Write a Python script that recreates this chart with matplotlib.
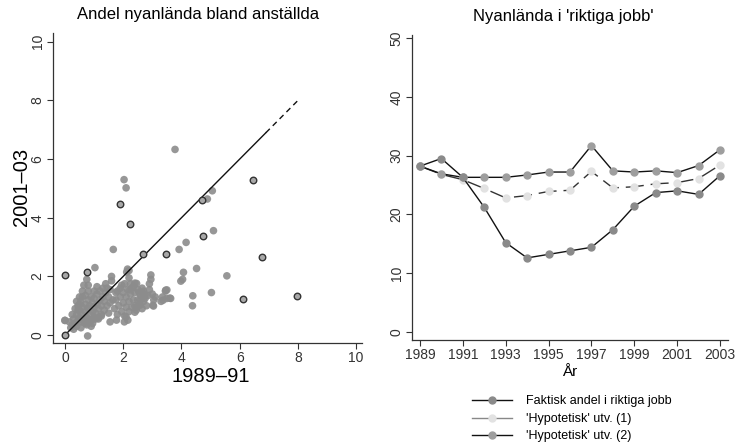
import matplotlib
matplotlib.use("Agg")
import matplotlib.pyplot as plt

plt.rcParams['font.family'] = ['Liberation Sans', 'DejaVu Sans']

# ---------------- data ----------------
# Left panel: share of newly arrived among employees, 1989-91 vs 2001-03
gray_x = [0.0, 0.78, 1.03, 1.66, 2.03, 2.10, 3.78, 3.92, 4.16, 4.89, 5.06, 5.10,
          4.07, 4.52, 3.98, 4.04, 4.39, 4.38, 5.03, 5.56, 3.63, 3.46, 3.04, 3.50, 3.60, 3.37,
          0.2, 0.25, 0.3, 0.35, 0.3, 0.4, 0.45, 0.4, 0.5, 0.5, 0.45, 0.55, 0.6, 0.6, 0.55, 0.6,
          0.65, 0.7, 0.7, 0.7, 0.75, 0.8, 0.8, 0.8, 0.8, 0.85, 0.85, 0.9, 0.9, 0.95, 0.95, 1.0,
          1.0, 1.0, 1.0, 1.05, 1.1, 1.1, 1.1, 1.15, 1.15, 1.2, 1.2, 1.25, 1.25, 1.3, 1.3, 1.35,
          1.35, 1.4, 1.4, 1.45, 1.5, 1.5, 1.55, 1.6, 1.6, 1.55, 0.6, 0.5, 0.65, 0.75, 0.35, 0.25,
          0.15, 0.4, 0.7, 0.9, 0.55, 0.65, 0.75, 0.85, 0.95, 1.05, 1.15, 1.25, 0.45, 0.5, 1.45,
          1.7, 1.75, 1.8, 1.8, 1.85, 1.9, 1.9, 1.95, 2.0, 2.0, 2.05, 2.05, 2.1, 2.1, 2.15, 2.2,
          2.2, 2.25, 2.3, 2.3, 2.35, 2.4, 2.4, 2.45, 2.5, 2.5, 2.55, 2.6, 2.65, 2.7, 2.7, 2.75,
          2.8, 2.85, 2.9, 2.9, 2.95, 2.95, 3.0, 3.05, 3.3, 3.35, 3.45, 3.5, 2.2, 2.15, 2.2, 2.12,
          2.46, 2.69, 2.4, 2.23, 2.47, 2.6, 2.75, 2.16, 2.4, 1.55, 1.77, 2.1, 2.04, 2.58, 3.02,
          3.1, 0.0, 1.95, 2.25, 1.65, 1.75, 2.35, 2.55, 2.65]
gray_y = [0.5, -0.03, 2.3, 2.92, 5.3, 5.02, 6.33, 2.92, 3.16, 4.64, 4.92, 3.56,
          2.14, 2.27, 1.84, 1.9, 1.34, 1.0, 1.45, 2.02, 1.25, 1.53, 0.99, 1.54, 1.26, 1.19,
          0.25, 0.35, 0.2, 0.4, 0.55, 0.3, 0.5, 0.7, 0.6, 0.85, 1.0, 0.45, 0.7, 0.95, 1.15, 1.3,
          0.55, 0.8, 1.05, 1.35, 0.6, 0.9, 1.2, 1.5, 1.7, 0.7, 1.0, 1.3, 0.5, 0.8, 1.1, 0.6,
          0.95, 1.25, 1.5, 0.75, 1.05, 1.4, 1.65, 0.55, 0.9, 1.2, 1.5, 0.7, 1.0, 1.3, 1.6, 0.85,
          1.15, 1.45, 1.75, 1.0, 1.3, 0.75, 1.55, 1.85, 2.0, 1.1, 1.5, 1.3, 1.7, 1.9, 0.9, 0.7,
          0.45, 1.15, 0.4, 0.3, 0.25, 0.45, 0.35, 0.5, 0.4, 0.55, 0.6, 0.65, 0.85, 1.05, 1.6,
          0.9, 1.2, 1.5, 0.7, 1.0, 1.3, 1.6, 0.8, 1.1, 1.45, 0.65, 1.75, 0.95, 1.3, 1.55, 0.8,
          1.15, 1.4, 0.95, 1.6, 1.2, 1.0, 1.45, 0.85, 1.2, 1.55, 1.05, 1.35, 0.9, 1.15, 1.5, 1.25,
          1.0, 1.35, 1.55, 1.75, 1.9, 2.05, 1.4, 1.2, 1.15, 1.3, 1.5, 1.25, 2.2, 2.25, 1.95, 2.15,
          1.76, 1.42, 1.77, 1.54, 0.96, 1.2, 1.37, 0.51, 0.78, 0.45, 0.51, 0.62, 0.45, 1.02, 1.02,
          1.3, 0.5, 1.7, 1.75, 1.2, 1.45, 1.65, 1.45, 1.6]
dark_x = [0.0, 0.0, 0.77, 1.89, 2.23, 2.67, 3.47, 4.70, 4.73, 6.13, 6.47, 6.78, 7.96]
dark_y = [0.0, 2.05, 2.15, 4.47, 3.78, 2.76, 2.78, 4.60, 3.38, 1.22, 5.28, 2.65, 1.33]
diag = [0, 8]
diag_break = 6.9

# Right panel: newly arrived in "real jobs"
years = list(range(1989, 2004))
faktisk = [28.2, 29.5, 26.3, 21.2, 15.2, 12.6, 13.2, 13.8, 14.4, 17.4, 21.4, 23.7, 24.0, 23.4, 26.6]
hyp1 = [28.2, 26.8, 25.9, 24.4, 22.8, 23.2, 23.9, 24.1, 27.3, 24.5, 24.7, 25.2, 25.4, 26.1, 28.4]
hyp2 = [28.2, 26.9, 26.3, 26.3, 26.3, 26.7, 27.2, 27.2, 31.7, 27.4, 27.2, 27.4, 27.1, 28.3, 31.0]
series_labels = ["Faktisk andel i riktiga jobb", "'Hypotetisk' utv. (1)", "'Hypotetisk' utv. (2)"]

left_title = "Andel nyanlända bland anställda"
right_title = "Nyanlända i 'riktiga jobb'"
left_xlabel = "1989\u201391"
left_ylabel = "2001\u201303"
right_xlabel = "År"

# ---------------- figure ----------------
W, H = 737, 447
fig = plt.figure(figsize=(W / 100, H / 100), dpi=100)

def frac(x0, y0, x1, y1):
    return [x0 / W, 1 - y1 / H, (x1 - x0) / W, (y1 - y0) / H]

axL = fig.add_axes(frac(53, 33, 362, 343))
axR = fig.add_axes(frac(412, 35, 728, 340))

for ax in (axL, axR):
    for s in ("top", "right"):
        ax.spines[s].set_visible(False)
    for s in ("left", "bottom"):
        ax.spines[s].set_color("#333333")
        ax.spines[s].set_linewidth(0.9)
    ax.tick_params(direction="out", length=4, width=0.8, colors="#333333",
                   labelsize=10, pad=2)

# Left scatter
axL.plot([diag[0], diag_break], [diag[0], diag_break], color="#111111", lw=1.0, zorder=3)
axL.plot([diag_break, diag[1]], [diag_break, diag[1]], color="#111111", lw=1.0,
         linestyle=(0, (4, 3)), zorder=3)
axL.scatter(gray_x, gray_y, s=30, color="#8c8c8c", edgecolors="none", alpha=0.9, zorder=2)
axL.scatter(dark_x, dark_y, s=22, facecolor="#a8a8a8", edgecolors="#333333",
            linewidths=1.0, zorder=4)
axL.set_xlim(-0.41, 10.2)
axL.set_ylim(-0.27, 10.3)
axL.set_xticks([0, 2, 4, 6, 8, 10])
axL.set_yticks([0, 2, 4, 6, 8, 10])
for lab in axL.get_yticklabels():
    lab.set_rotation(90)
    lab.set_va("center")

# Right line chart
lF, = axR.plot(years, faktisk, color="#111111", lw=1.0, marker="o", markersize=5,
               markerfacecolor="#8a8a8a", markeredgecolor="#8a8a8a", zorder=3)
l1, = axR.plot(years, hyp1, color="#333333", lw=1.0, linestyle=(0, (13, 5)), marker="o",
               markersize=5, markerfacecolor="#e2e2e2", markeredgecolor="#e2e2e2", zorder=2)
l2, = axR.plot(years, hyp2, color="#111111", lw=1.0, marker="o", markersize=5,
               markerfacecolor="#9e9e9e", markeredgecolor="#9e9e9e", zorder=2)
axR.set_xlim(1988.63, 2003.37)
axR.set_ylim(-1.36, 50.5)
axR.set_xticks(list(range(1989, 2004, 2)))
axR.set_yticks([0, 10, 20, 30, 40, 50])
for lab in axR.get_yticklabels():
    lab.set_rotation(90)
    lab.set_va("center")

# Titles and labels
fig.text(198 / W, 1 - 14 / H, left_title, ha="center", va="center", fontsize=12)
fig.text(563 / W, 1 - 17 / H, right_title, ha="center", va="center", fontsize=12)
fig.text(211 / W, 1 - 377 / H, left_xlabel, ha="center", va="center", fontsize=14.5)
fig.text(21 / W, 1 - 187 / H, left_ylabel, ha="center", va="center", fontsize=14.5, rotation=90)
fig.text(570 / W, 1 - 372 / H, right_xlabel, ha="center", va="center", fontsize=11)

leg = fig.legend([lF, l1, l2], series_labels, loc="upper left",
                 bbox_to_anchor=(466 / W, 1 - 389 / H), frameon=False, fontsize=9,
                 handlelength=3.2, handletextpad=1.1, labelspacing=0.45, borderpad=0)
leg.legend_handles[1].set_linestyle("-")
leg.legend_handles[1].set_color("#888888")

fig.savefig("out.png", dpi=100)
